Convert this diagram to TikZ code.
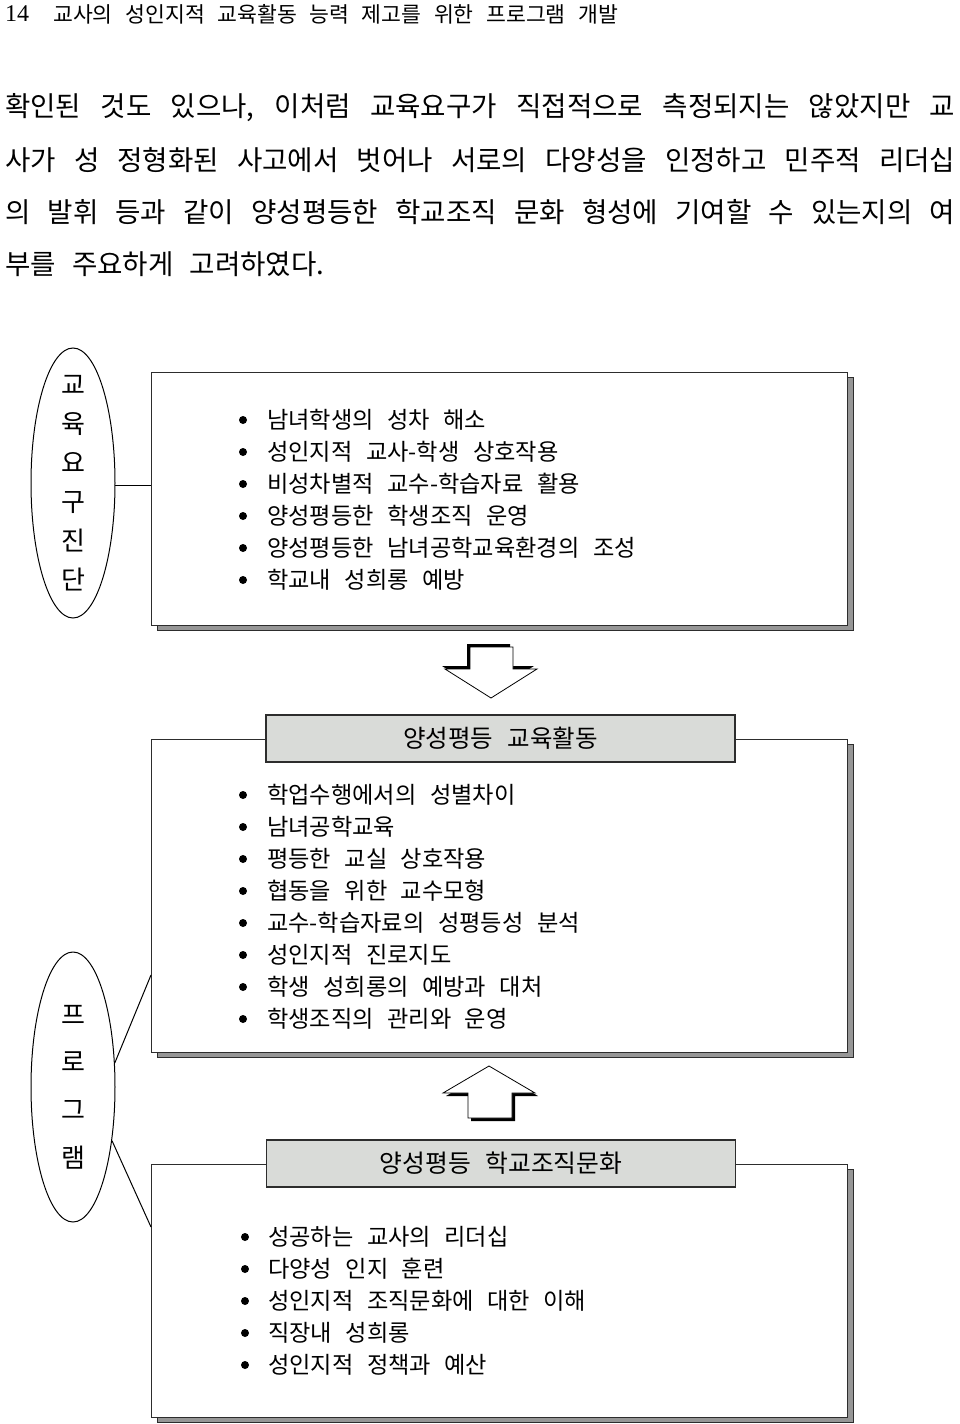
\documentclass[tikz,border=0pt]{standalone}
\usepackage{fontspec}
\setmainfont{Liberation Serif}
\newfontfamily\kr[WordSpace=2.6]{Noto Sans CJK KR}
\usetikzlibrary{shapes.geometric,shadows}
\definecolor{labelgray}{RGB}{217,219,216}
\definecolor{shadowgray}{RGB}{150,150,150}
\definecolor{linegray}{RGB}{45,45,45}
\begin{document}
\begin{tikzpicture}[x=1pt,y=-1pt,
  oval/.style={ellipse, draw=black, line width=1pt, minimum width=84pt, minimum height=270pt, inner sep=0pt},
  ovaltext/.style={inner sep=0pt, align=center},
  bigbox/.style={draw=linegray, fill=white, line width=1.3pt, anchor=north west, minimum width=696pt, inner sep=0pt,
    drop shadow={shadow xshift=6pt, shadow yshift=-5pt, fill=shadowgray, draw=linegray, line width=1.3pt, opacity=1}},
  labelbox/.style={draw=linegray, fill=labelgray, line width=1.3pt, minimum width=469pt, minimum height=47pt, inner sep=0pt},
  itemtext/.style={anchor=west, inner sep=0pt, font=\kr\fontsize{23.2}{26}\selectfont},
  bullet/.style={fill=black},
  para/.style={anchor=west, inner sep=0pt, font=\kr\fontsize{27.6}{30}\selectfont},
  link/.style={draw=black, line width=1pt},
  blockarrow/.style={draw=black, fill=white, line width=0.8pt, line join=miter},
  arrowshadow/.style={fill=black}
]
\useasboundingbox (0,0) rectangle (960,1424);

% header
\node[anchor=west, inner sep=0pt, font=\fontsize{24}{26}\selectfont] (pgnum) at (5,14) {14};
\node[anchor=west, inner sep=0pt, font=\kr\fontsize{21.6}{24}\selectfont] (head) at (53,14) {교사의 성인지적 교육활동 능력 제고를 위한 프로그램 개발};

% paragraph
\node[para] (p1) at (5,108) {\makebox[950pt][s]{확인된 것도 있으나, 이처럼 교육요구가 직접적으로 측정되지는 않았지만 교}};
\node[para] (p2) at (5,160) {\makebox[950pt][s]{사가 성 정형화된 사고에서 벗어나 서로의 다양성을 인정하고 민주적 리더십}};
\node[para] (p3) at (5,212) {\makebox[950pt][s]{의 발휘 등과 같이 양성평등한 학교조직 문화 형성에 기여할 수 있는지의 여}};
\node[para] (p4) at (5,264) {부를 주요하게 고려하였다.};

% ovals
\node[oval] (o1) at (73,483) {};
\node[ovaltext, font=\kr\fontsize{26}{39}\selectfont] (o1t) at (o1.center) {교\\육\\요\\구\\진\\단};
\node[oval] (o2) at (73,1087) {};
\node[ovaltext, font=\kr\fontsize{26}{47.7}\selectfont] (o2t) at (o2.center) {프\\로\\그\\램};

% boxes
\node[bigbox, minimum height=253pt] (b1) at (151,372) {};
\node[bigbox, minimum height=313pt] (b2) at (151,739) {};
\node[bigbox, minimum height=253pt] (b3) at (151,1164) {};

% labels
\node[labelbox, font=\kr\fontsize{24.5}{26}\selectfont] (l2) at (500.5,738.5) {양성평등 교육활동};
\node[labelbox, font=\kr\fontsize{24.8}{28}\selectfont] (l3) at (501,1163.5) {양성평등 학교조직문화};

% connectors
\coordinate (e2) at (151,975);
\coordinate (e3) at (151,1227);
\draw[link] (o1.-4) -- (o1.-4 -| b1.west);
\draw[link] (o2.30) -- (e2);
\draw[link] (o2.-54) -- (e3);

% box 1 items
\foreach \t [count=\i] in {남녀학생의 성차 해소, 성인지적 교사-학생 상호작용, 비성차별적 교수-학습자료 활용, 양성평등한 학생조직 운영, 양성평등한 남녀공학교육환경의 조성, 학교내 성희롱 예방}{
  \fill[bullet] (243,{388+32*\i}) circle (4pt);
  \node[itemtext] (ia\i) at (267,{388+32*\i}) {\t};
}
% box 2 items
\foreach \t [count=\i] in {학업수행에서의 성별차이, 남녀공학교육, 평등한 교실 상호작용, 협동을 위한 교수모형, 교수-학습자료의 성평등성 분석, 성인지적 진로지도, 학생 성희롱의 예방과 대처, 학생조직의 관리와 운영}{
  \fill[bullet] (243,{763+32*\i}) circle (4pt);
  \node[itemtext] (ib\i) at (267,{763+32*\i}) {\t};
}
% box 3 items
\foreach \t [count=\i] in {성공하는 교사의 리더십, 다양성 인지 훈련, 성인지적 조직문화에 대한 이해, 직장내 성희롱, 성인지적 정책과 예산}{
  \fill[bullet] (245,{1205+32*\i}) circle (4pt);
  \node[itemtext] (ic\i) at (268,{1205+32*\i}) {\t};
}

% down block arrow
\begin{scope}[shift={(-3,-3)}]
  \fill[arrowshadow] (470,647) -- (513,647) -- (513,669) -- (537,669) -- (491,698) -- (445,669) -- (470,669) -- cycle;
\end{scope}
\draw[blockarrow] (470,647) -- (513,647) -- (513,669) -- (537,669) -- (491,698) -- (445,669) -- (470,669) -- cycle;

% up block arrow
\begin{scope}[shift={(3,3)}]
  \fill[arrowshadow] (489,1066) -- (535,1093) -- (512,1093) -- (512,1118) -- (468,1118) -- (468,1093) -- (443,1093) -- cycle;
\end{scope}
\draw[blockarrow] (489,1066) -- (535,1093) -- (512,1093) -- (512,1118) -- (468,1118) -- (468,1093) -- (443,1093) -- cycle;

\end{tikzpicture}
\end{document}
